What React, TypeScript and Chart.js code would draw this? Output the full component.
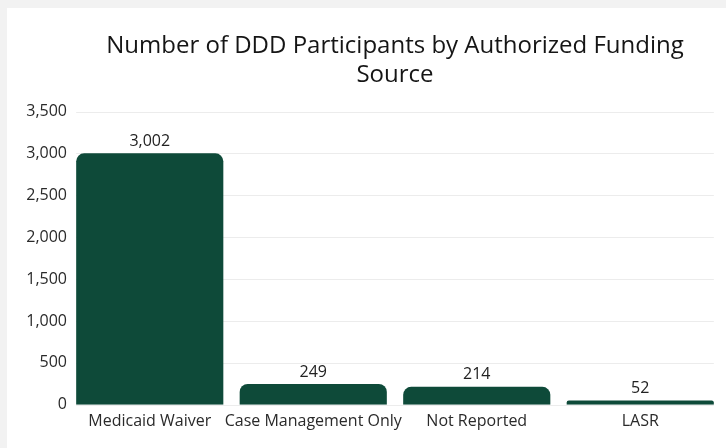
import React, { useEffect, useRef } from "react";
import { Chart, registerables } from "chart.js";

Chart.register(...registerables);

const categories = ["Medicaid Waiver", "Case Management Only", "Not Reported", "LASR"];
const participants = [3002, 249, 214, 52];
const yTicks = [0, 500, 1000, 1500, 2000, 2500, 3000, 3500];
const titleLines = ["Number of DDD Participants by Authorized Funding", "Source"];

const fmt = (v: number) => v.toLocaleString("en-US");

const gridPlugin = {
  id: "customGrid",
  beforeDatasetsDraw(chart: any) {
    const meta = chart.getDatasetMeta(0);
    const bars = meta.data;
    if (!bars.length) return;
    const first = bars[0];
    const last = bars[bars.length - 1];
    const x0 = first.x - first.width / 2;
    const x1 = last.x + last.width / 2;
    const y = chart.scales.y;
    const ctx = chart.ctx;
    ctx.save();
    ctx.strokeStyle = "#ececec";
    ctx.lineWidth = 1;
    y.ticks.forEach((t: any) => {
      const py = Math.round(y.getPixelForValue(t.value)) + 0.5;
      ctx.beginPath();
      ctx.moveTo(x0, py);
      ctx.lineTo(x1, py);
      ctx.stroke();
    });
    ctx.restore();
  },
};

const labelPlugin = {
  id: "valueLabels",
  afterDatasetsDraw(chart: any) {
    const ctx = chart.ctx;
    const meta = chart.getDatasetMeta(0);
    const data = chart.data.datasets[0].data as number[];
    ctx.save();
    ctx.fillStyle = "#222222";
    ctx.font = "16px 'Open Sans'";
    ctx.textAlign = "center";
    ctx.textBaseline = "bottom";
    meta.data.forEach((bar: any, i: number) => {
      ctx.fillText(fmt(data[i]), bar.x, bar.y - 4);
    });
    ctx.restore();
  },
};

export default function App() {
  const ref = useRef<HTMLCanvasElement | null>(null);
  useEffect(() => {
    if (!ref.current) return;
    const chart = new Chart(ref.current, {
      type: "bar",
      data: {
        labels: categories,
        datasets: [
          {
            data: participants,
            backgroundColor: "#0e4a39",
            borderRadius: 8,
            borderSkipped: "start",
            barPercentage: 0.9,
            categoryPercentage: 1.0,
          },
        ],
      },
      options: {
        animation: false,
        responsive: true,
        maintainAspectRatio: false,
        layout: { padding: { top: 14, right: 4, bottom: 10, left: 0 } },
        plugins: {
          legend: { display: false },
          tooltip: { enabled: false },
          title: {
            display: true,
            text: titleLines,
            fullSize: false,
            color: "#151515",
            font: { family: "'Open Sans'", size: 24, weight: "normal", lineHeight: 1.2 },
            padding: { top: 10, bottom: 22 },
          },
        },
        scales: {
          x: {
            grid: { display: false, drawTicks: false },
            border: { display: false },
            ticks: {
              color: "#2a2a2a",
              font: { family: "'Open Sans'", size: 16 },
              padding: 7,
              maxRotation: 0,
              autoSkip: false,
            },
          },
          y: {
            min: 0,
            max: 3500,
            afterBuildTicks: (s: any) => {
              s.ticks = yTicks.map((v) => ({ value: v }));
            },
            afterFit: (s: any) => {
              s.width = 61;
            },
            grid: { display: false, drawTicks: false },
            border: { display: false },
            ticks: {
              color: "#2a2a2a",
              font: { family: "'Open Sans'", size: 16 },
              padding: 1,
              callback: (v: any) => fmt(Number(v)),
            },
          },
        },
      },
      plugins: [gridPlugin, labelPlugin],
    });
    return () => chart.destroy();
  }, []);

  return (
    <div style={{ position: "fixed", inset: 0, background: "#f2f2f2" }}>
      <div
        style={{
          position: "absolute",
          left: 7,
          top: 8,
          width: 719,
          height: 440,
          background: "#ffffff",
        }}
      >
        <canvas ref={ref} />
      </div>
    </div>
  );
}
